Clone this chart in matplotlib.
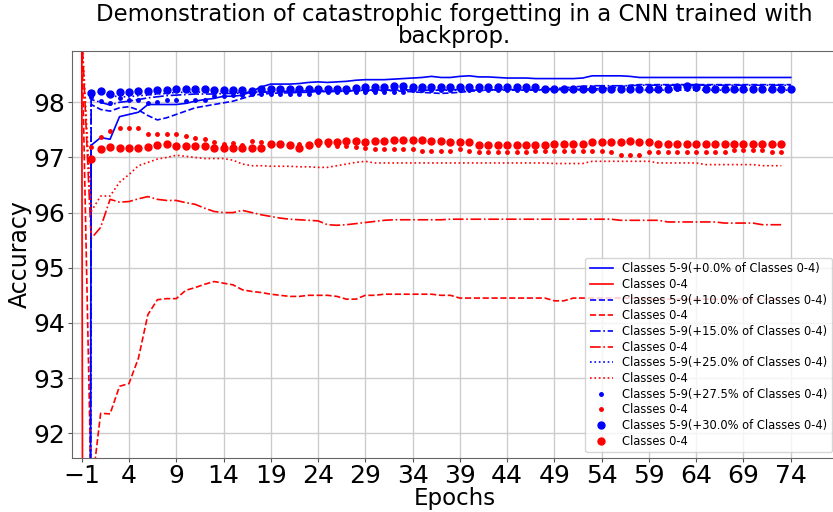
import numpy as np
import matplotlib
matplotlib.use("Agg")
from matplotlib import pyplot as plt

# epochs: index -1 is the state before training on classes 5-9
epochs_59 = list(range(-1, 75))
epochs_04 = list(range(-1, 74))

# accuracy on classes 5-9 (blue) for each amount of replayed 0-4 data
acc59_00 = [0.0, 97.22, 97.36, 97.33, 97.74, 97.78, 97.82, 97.96, 97.96, 97.96, 97.96, 97.98, 98.02, 98.05, 98.07,
            98.11, 98.11, 98.13, 98.20, 98.28, 98.33, 98.33, 98.33, 98.34, 98.36, 98.37, 98.36, 98.37, 98.38, 98.40,
            98.41, 98.41, 98.41, 98.42, 98.43, 98.44, 98.45, 98.47, 98.45, 98.45, 98.47, 98.48, 98.46, 98.46, 98.45,
            98.44, 98.44, 98.44, 98.43, 98.43, 98.43, 98.43, 98.43, 98.44, 98.48, 98.48, 98.48, 98.48, 98.47, 98.45,
            98.45, 98.45, 98.45, 98.45, 98.45, 98.45, 98.45, 98.45, 98.45, 98.45, 98.45, 98.45, 98.45, 98.45, 98.45,
            98.45]
acc59_10 = [0.0, 97.96, 97.87, 97.84, 97.90, 97.92, 97.86, 97.76, 97.68, 97.72, 97.78, 97.84, 97.90, 97.93, 97.96,
            97.99, 98.02, 98.07, 98.12, 98.15, 98.16, 98.17, 98.17, 98.18, 98.18, 98.20, 98.19, 98.20, 98.20, 98.21,
            98.20, 98.20, 98.21, 98.21, 98.20, 98.19, 98.18, 98.17, 98.16, 98.17, 98.18, 98.20, 98.21, 98.22, 98.22,
            98.22, 98.22, 98.22, 98.22, 98.23, 98.23, 98.23, 98.23, 98.24, 98.24, 98.25, 98.26, 98.28, 98.31, 98.32,
            98.32, 98.32, 98.32, 98.32, 98.32, 98.32, 98.32, 98.32, 98.32, 98.32, 98.32, 98.32, 98.32, 98.32, 98.32,
            98.32]
acc59_15 = [0.0, 98.05, 98.00, 97.95, 98.00, 98.02, 98.05, 98.08, 98.10, 98.12, 98.13, 98.14, 98.15, 98.15, 98.15,
            98.16, 98.16, 98.17, 98.18, 98.18, 98.19, 98.20, 98.20, 98.20, 98.21, 98.21, 98.20, 98.20, 98.21, 98.21,
            98.22, 98.22, 98.22, 98.22, 98.23, 98.22, 98.22, 98.22, 98.22, 98.23, 98.23, 98.22, 98.22, 98.22, 98.23,
            98.23, 98.23, 98.23, 98.23, 98.24, 98.25, 98.26, 98.28, 98.29, 98.30, 98.30, 98.30, 98.30, 98.30, 98.31,
            98.31, 98.31, 98.31, 98.31, 98.31, 98.31, 98.31, 98.31, 98.31, 98.31, 98.31, 98.31, 98.31, 98.31, 98.31,
            98.31]
acc59_25 = [0.0, 98.20, 98.18, 98.12, 98.10, 98.10, 98.12, 98.13, 98.15, 98.16, 98.18, 98.18, 98.18, 98.19, 98.19,
            98.19, 98.19, 98.18, 98.18, 98.19, 98.20, 98.20, 98.20, 98.21, 98.21, 98.21, 98.21, 98.21, 98.22, 98.22,
            98.22, 98.22, 98.22, 98.22, 98.22, 98.22, 98.22, 98.22, 98.22, 98.22, 98.22, 98.22, 98.22, 98.22, 98.22,
            98.22, 98.22, 98.22, 98.22, 98.22, 98.22, 98.22, 98.22, 98.22, 98.22, 98.22, 98.22, 98.22, 98.22, 98.22,
            98.22, 98.22, 98.22, 98.22, 98.22, 98.22, 98.22, 98.22, 98.22, 98.22, 98.22, 98.22, 98.22, 98.22, 98.22,
            98.22]
acc59_275 = [0.0, 98.10, 98.02, 97.99, 98.07, 98.04, 98.05, 97.99, 98.00, 98.04, 98.04, 98.02, 98.04, 98.05, 98.11,
             98.12, 98.13, 98.14, 98.15, 98.15, 98.15, 98.15, 98.15, 98.15, 98.15, 98.19, 98.19, 98.19, 98.19, 98.19,
             98.19, 98.19, 98.19, 98.19, 98.19, 98.22, 98.22, 98.22, 98.22, 98.22, 98.22, 98.22, 98.22, 98.22, 98.22,
             98.22, 98.22, 98.22, 98.22, 98.22, 98.24, 98.24, 98.24, 98.24, 98.24, 98.24, 98.24, 98.24, 98.24, 98.24,
             98.24, 98.24, 98.24, 98.24, 98.24, 98.24, 98.24, 98.24, 98.24, 98.24, 98.24, 98.24, 98.24, 98.24, 98.24,
             98.24]
acc59_30 = [0.0, 98.16, 98.21, 98.15, 98.19, 98.19, 98.21, 98.21, 98.22, 98.22, 98.25, 98.25, 98.25, 98.24, 98.22,
            98.22, 98.22, 98.22, 98.21, 98.24, 98.24, 98.24, 98.24, 98.24, 98.24, 98.25, 98.25, 98.25, 98.25, 98.26,
            98.27, 98.27, 98.28, 98.30, 98.30, 98.27, 98.27, 98.27, 98.27, 98.27, 98.27, 98.27, 98.27, 98.27, 98.27,
            98.27, 98.27, 98.27, 98.27, 98.25, 98.25, 98.25, 98.25, 98.25, 98.25, 98.25, 98.25, 98.25, 98.25, 98.25,
            98.25, 98.25, 98.25, 98.28, 98.30, 98.28, 98.25, 98.25, 98.25, 98.25, 98.25, 98.25, 98.25, 98.25, 98.25,
            98.25]

# accuracy on classes 0-4 (red)
acc04_00 = [99.3, 0.0]
acc04_10 = [99.3, 90.9, 92.36, 92.35, 92.85, 92.90, 93.36, 94.15, 94.42, 94.44, 94.44, 94.59, 94.64, 94.70, 94.75,
            94.72, 94.69, 94.60, 94.57, 94.55, 94.52, 94.50, 94.48, 94.48, 94.50, 94.50, 94.50, 94.48, 94.43, 94.43,
            94.50, 94.50, 94.52, 94.52, 94.52, 94.52, 94.52, 94.52, 94.50, 94.50, 94.45, 94.45, 94.45, 94.45, 94.45,
            94.45, 94.45, 94.45, 94.45, 94.45, 94.40, 94.40, 94.45, 94.45, 94.45, 94.45, 94.45, 94.45, 94.45, 94.45,
            94.43, 94.43, 94.43, 94.43, 94.43, 94.43, 94.43, 94.43, 94.43, 94.43, 94.43, 94.43, 94.43, 94.43, 94.43]
acc04_15 = [99.3, 95.53, 95.73, 96.24, 96.19, 96.20, 96.25, 96.29, 96.24, 96.22, 96.22, 96.18, 96.15, 96.08, 96.02,
            96.00, 96.00, 96.04, 96.00, 95.96, 95.93, 95.90, 95.88, 95.87, 95.86, 95.85, 95.78, 95.77, 95.78, 95.80,
            95.82, 95.84, 95.86, 95.87, 95.87, 95.87, 95.87, 95.87, 95.87, 95.88, 95.88, 95.88, 95.88, 95.88, 95.88,
            95.88, 95.88, 95.88, 95.88, 95.88, 95.88, 95.88, 95.88, 95.88, 95.88, 95.88, 95.88, 95.86, 95.86, 95.86,
            95.86, 95.86, 95.83, 95.83, 95.83, 95.83, 95.83, 95.83, 95.81, 95.81, 95.81, 95.81, 95.78, 95.78, 95.78]
acc04_25 = [99.3, 96.02, 96.30, 96.30, 96.55, 96.69, 96.85, 96.91, 96.97, 97.00, 97.04, 97.02, 97.00, 96.98, 96.98,
            96.98, 96.95, 96.88, 96.85, 96.85, 96.84, 96.84, 96.84, 96.83, 96.83, 96.82, 96.82, 96.85, 96.88, 96.91,
            96.93, 96.90, 96.90, 96.90, 96.90, 96.90, 96.90, 96.90, 96.90, 96.90, 96.90, 96.90, 96.90, 96.90, 96.90,
            96.90, 96.90, 96.90, 96.90, 96.90, 96.89, 96.89, 96.89, 96.89, 96.93, 96.93, 96.93, 96.93, 96.93, 96.93,
            96.93, 96.90, 96.90, 96.90, 96.90, 96.90, 96.87, 96.87, 96.87, 96.87, 96.87, 96.87, 96.85, 96.85, 96.85]
acc04_275 = [99.3, 97.19, 97.37, 97.48, 97.53, 97.53, 97.53, 97.42, 97.43, 97.42, 97.42, 97.39, 97.36, 97.33, 97.28,
             97.25, 97.27, 97.23, 97.30, 97.28, 97.26, 97.26, 97.25, 97.25, 97.24, 97.23, 97.22, 97.21, 97.20, 97.19,
             97.18, 97.16, 97.16, 97.16, 97.15, 97.15, 97.12, 97.12, 97.12, 97.12, 97.15, 97.12, 97.10, 97.10, 97.10,
             97.10, 97.10, 97.10, 97.12, 97.12, 97.12, 97.12, 97.12, 97.12, 97.12, 97.12, 97.10, 97.05, 97.05, 97.05,
             97.10, 97.10, 97.10, 97.10, 97.10, 97.10, 97.10, 97.10, 97.10, 97.13, 97.13, 97.13, 97.13, 97.10, 97.10]
acc04_30 = [99.3, 96.98, 97.16, 97.19, 97.18, 97.17, 97.17, 97.19, 97.22, 97.25, 97.21, 97.21, 97.21, 97.21, 97.18,
            97.18, 97.18, 97.18, 97.17, 97.18, 97.24, 97.24, 97.22, 97.18, 97.22, 97.28, 97.28, 97.28, 97.30, 97.30,
            97.28, 97.30, 97.30, 97.32, 97.32, 97.32, 97.32, 97.30, 97.30, 97.28, 97.28, 97.28, 97.22, 97.22, 97.22,
            97.22, 97.22, 97.22, 97.22, 97.22, 97.25, 97.25, 97.25, 97.25, 97.28, 97.28, 97.28, 97.28, 97.30, 97.28,
            97.28, 97.25, 97.25, 97.25, 97.25, 97.25, 97.25, 97.25, 97.25, 97.25, 97.25, 97.25, 97.25, 97.25, 97.25]

percents = ['0.0', '10.0', '15.0', '25.0', '27.5', '30.0']
blue_runs = [acc59_00, acc59_10, acc59_15, acc59_25, acc59_275, acc59_30]
red_runs = [acc04_00, acc04_10, acc04_15, acc04_25, acc04_275, acc04_30]
styles = [dict(ls='-'), dict(ls='--'), dict(ls='-.'), dict(ls=':'),
          dict(ls='none', marker='.', ms=5), dict(ls='none', marker='o', ms=5)]

fig = plt.figure(figsize=(8.33, 5.12), dpi=100)
ax = fig.add_axes([71.5 / 833, 1 - 458 / 512, (838 - 71.5) / 833, (458 - 51) / 512])

for pct, b, r, st in zip(percents, blue_runs, red_runs, styles):
    ax.plot(epochs_59[:len(b)], b, color='b', lw=1.2,
            label='Classes 5-9(+' + pct + '% of Classes 0-4)', **st)
    ax.plot(epochs_04[:len(r)], r, color='r', lw=1.2, label='Classes 0-4', **st)

ax.set_xlim(-2.08, 79)
ax.set_ylim(91.55, 98.93)
ax.set_xticks(range(-1, 75, 5))
ax.set_yticks(range(92, 99))
ax.tick_params(labelsize=18, color='#555555', length=3, pad=1.5)
ax.grid(True, color='#cccccc', lw=1)
for sp in ax.spines.values():
    sp.set_color('#666666')
    sp.set_linewidth(0.8)

ax.set_xlabel('Epochs', fontsize=16.5, labelpad=-1)
ax.set_ylabel('Accuracy', fontsize=17, labelpad=1)
ax.set_title('Demonstration of catastrophic forgetting in a CNN trained with\nbackprop.',
             fontsize=16.4, linespacing=0.95, pad=6)
ax.legend(loc='lower right', fontsize=8.3, labelspacing=0.23, framealpha=0.8)

fig.savefig('out.png', dpi=100)
